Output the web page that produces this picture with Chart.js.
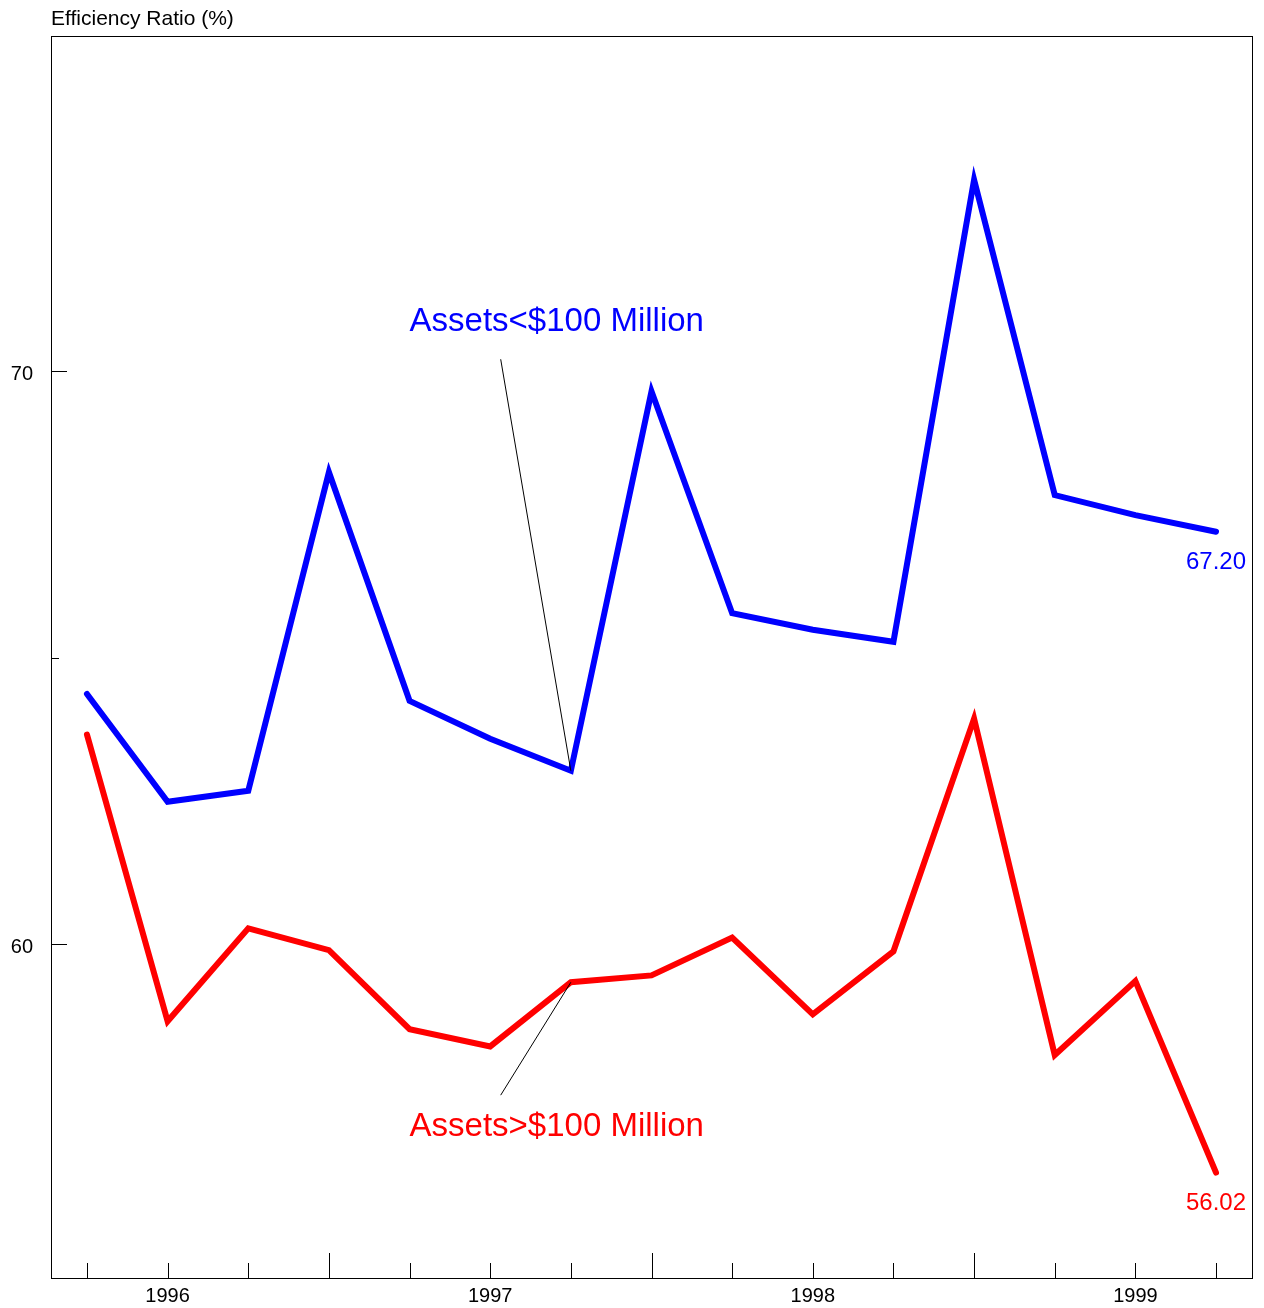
<!DOCTYPE html>
<html>
<head>
<meta charset="utf-8">
<script src="https://cdn.jsdelivr.net/npm/chart.js@4/dist/chart.umd.min.js"></script>
<style>
  body { margin: 0; background: #fff; }
  canvas { display: block; }
</style>
</head>
<body>
<canvas id="chart" width="1264" height="1308"></canvas>
<script>
  // quarterly points, Q4 1995 .. Q2 1999
  const periods = ["1995Q4", "1996Q1", "1996Q2", "1996Q3", "1996Q4", "1997Q1", "1997Q2", "1997Q3",
    "1997Q4", "1998Q1", "1998Q2", "1998Q3", "1998Q4", "1999Q1", "1999Q2"];
  const xTickLabels = ["", "1996", "", "", "", "1997", "", "", "", "1998", "", "", "", "1999", ""];
  const yearBreaks = [3, 7, 11];
  const smallBanks = [64.37, 62.49, 62.68, 68.24, 64.25, 63.59, 63.03, 69.65, 65.78, 65.49, 65.28, 73.34, 67.84, 67.49, 67.20];
  const largeBanks = [63.66, 58.66, 60.28, 59.90, 58.52, 58.22, 59.34, 59.46, 60.12, 58.78, 59.88, 63.94, 58.07, 59.36, 56.02];
  const yTicks = [60, 65, 70];
  const yLabelled = [60, 70];

  const FONT = '"Liberation Sans", Arial, sans-serif';

  const toPoints = (arr) => arr.map((v, i) => ({ x: i, y: v }));

  // labels with leader lines to the 1997Q2 point
  const callouts = [
    { text: "Assets<$100 Million", color: "#0000ff", ds: 0, idx: 6, tx: 4.0, ty: 70.71, lx: 5.13, ly: 70.21 },
    { text: "Assets>$100 Million", color: "#ff0000", ds: 1, idx: 6, tx: 4.0, ty: 56.66, lx: 5.13, ly: 57.37 },
  ];

  const decorPlugin = {
    id: "decor",
    afterDraw(chart) {
      const { ctx, chartArea: a, scales } = chart;
      const xs = scales.x, ys = scales.y;
      ctx.save();

      // frame
      ctx.strokeStyle = "#000";
      ctx.lineWidth = 1;
      ctx.strokeRect(Math.round(a.left) + 0.5, Math.round(a.top) + 0.5,
        Math.round(a.right - a.left), Math.round(a.bottom - a.top));

      // inward x ticks
      ctx.beginPath();
      periods.forEach((p, i) => {
        const x = Math.round(xs.getPixelForValue(i)) + 0.5;
        const len = yearBreaks.includes(i) ? 25 : 15;
        ctx.moveTo(x, a.bottom);
        ctx.lineTo(x, a.bottom - len);
      });
      // inward y ticks
      yTicks.forEach((v) => {
        const y = Math.round(ys.getPixelForValue(v)) + 0.5;
        const len = yLabelled.includes(v) ? 16 : 8;
        ctx.moveTo(a.left, y);
        ctx.lineTo(a.left + len, y);
      });
      ctx.stroke();

      // axis title
      ctx.fillStyle = "#000";
      ctx.font = "21px " + FONT;
      ctx.textAlign = "left";
      ctx.textBaseline = "alphabetic";
      ctx.fillText("Efficiency Ratio (%)", a.left, 25);

      // callouts
      callouts.forEach((c) => {
        const pt = chart.getDatasetMeta(c.ds).data[c.idx];
        ctx.strokeStyle = "#000";
        ctx.lineWidth = 1;
        ctx.beginPath();
        ctx.moveTo(xs.getPixelForValue(c.lx), ys.getPixelForValue(c.ly));
        ctx.lineTo(pt.x, pt.y);
        ctx.stroke();
        ctx.fillStyle = c.color;
        ctx.font = "33px " + FONT;
        ctx.textAlign = "left";
        ctx.fillText(c.text, xs.getPixelForValue(c.tx), ys.getPixelForValue(c.ty));
      });

      // last value labels
      chart.data.datasets.forEach((ds, di) => {
        const meta = chart.getDatasetMeta(di);
        const last = meta.data[meta.data.length - 1];
        ctx.fillStyle = ds.borderColor;
        ctx.font = "24px " + FONT;
        ctx.textAlign = "right";
        ctx.fillText(ds.data[ds.data.length - 1].y.toFixed(2), a.right - 6, last.y + 37);
      });
      ctx.restore();
    },
  };

  new Chart(document.getElementById("chart"), {
    type: "line",
    data: {
      datasets: [
        { label: "Assets<$100 Million", data: toPoints(smallBanks), borderColor: "#0000ff", borderWidth: 6 },
        { label: "Assets>$100 Million", data: toPoints(largeBanks), borderColor: "#ff0000", borderWidth: 6 },
      ],
    },
    options: {
      responsive: false,
      animation: false,
      devicePixelRatio: 1,
      layout: { padding: { top: 36, right: 12, left: 0, bottom: 0 } },
      elements: {
        point: { radius: 0 },
        line: { tension: 0, borderCapStyle: "round", borderJoinStyle: "miter", fill: false },
      },
      plugins: { legend: { display: false }, tooltip: { enabled: false }, title: { display: false } },
      scales: {
        x: {
          type: "linear",
          min: -0.446,
          max: 14.446,
          grid: { display: false, drawTicks: false },
          border: { display: false },
          afterBuildTicks: (s) => { s.ticks = periods.map((p, i) => ({ value: i })); },
          afterFit: (s) => { s.height = 28; },
          ticks: {
            autoSkip: false,
            maxRotation: 0,
            padding: 6,
            color: "#000",
            font: { family: FONT, size: 20 },
            callback: (v) => xTickLabels[v] || "",
          },
        },
        y: {
          min: 54.18,
          max: 75.85,
          grid: { display: false, drawTicks: false },
          border: { display: false },
          afterBuildTicks: (s) => { s.ticks = yTicks.map((v) => ({ value: v })); },
          afterFit: (s) => { s.width = 51; },
          ticks: {
            padding: 18,
            labelOffset: 3,
            color: "#000",
            font: { family: FONT, size: 20 },
            callback: (v) => (yLabelled.includes(v) ? String(v) : ""),
          },
        },
      },
    },
    plugins: [decorPlugin],
  });
</script>
</body>
</html>
